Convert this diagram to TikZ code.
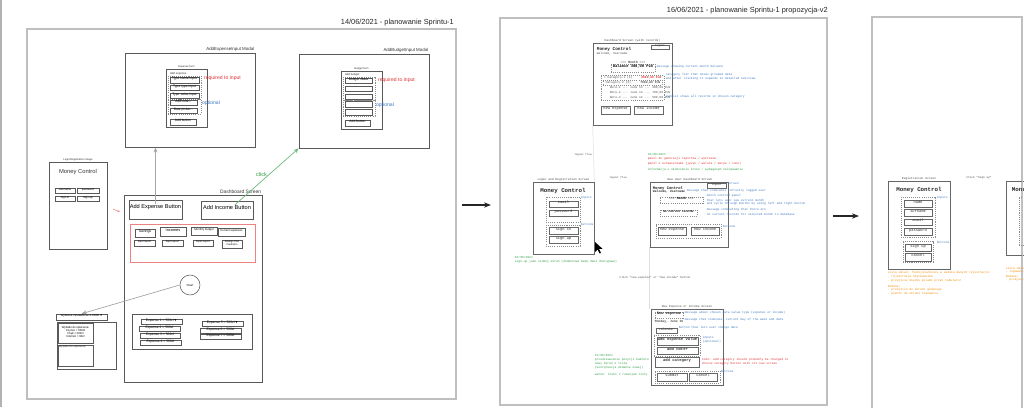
\documentclass[tikz,border=0pt]{standalone}
\usepackage{fontspec}
\setmainfont{Liberation Sans}
\newfontfamily\codefont{Liberation Mono}
\usepackage{amssymb}
\usepackage{tikz}
\usetikzlibrary{arrows.meta,positioning,calc,fit}

\newcommand{\pxfont}[1]{\fontsize{#1}{#1}\selectfont}

\definecolor{noteblue}{HTML}{3B78C2}
\definecolor{notegreen}{HTML}{2F9E44}
\definecolor{notered}{HTML}{E03131}
\definecolor{noteorange}{HTML}{F08C00}

\tikzset{
    frame/.style     = {draw=gray!50, line width=0.7pt, inner sep=0pt},
    sketch/.style    = {draw=black!65, line width=0.3pt, inner sep=0pt, align=center, font=\pxfont{1.9}},
    hand/.style      = {font=\pxfont{2.2}, text=black!80, inner sep=0.4pt, align=center},
    boardtitle/.style= {font=\pxfont{4.2}, text=black!85, inner sep=0.5pt},
    codebox/.style   = {draw=black!60, line width=0.35pt, inner sep=0pt, font=\codefont\pxfont{2.1}, text=black!80},
    grp/.style       = {draw=black!45, dash pattern=on 0.6pt off 0.6pt, line width=0.3pt, inner sep=0pt},
    code/.style      = {font=\codefont\pxfont{1.7}, text=black!70, inner sep=0.3pt},
    bluenote/.style  = {code, anchor=west, text=noteblue},
    greennote/.style = {code, anchor=west, text=notegreen},
    rednote/.style   = {code, anchor=west, text=notered},
    orangenote/.style= {code, anchor=west, text=noteorange}
}

\begin{document}
\begin{tikzpicture}[x=0.02cm, y=-0.02cm,
        grayarr/.style  = {->, >={Stealth[length=3pt]}, line width=0.4pt, draw=gray!70},
        greenarr/.style = {->, >={Stealth[length=3pt]}, line width=0.4pt, draw=notegreen!70},
        boardarr/.style = {->, >={Stealth[length=4pt]}, line width=0.6pt, draw=black!85},
        faint/.style    = {line width=0.3pt, draw=gray!25}
    ]
    \path[use as bounding box, fill=white] (0,0) rectangle (1024,407);
    \fill[gray!60] (0,0) rectangle (2.5,407);

    % ================= Board 1 : 14/06 =================
    \node[frame, fit={(27,29) (456,399)}] (boardA) {};
    \node[boardtitle, anchor=south east] (boardATitle) at (455,27) {14/06/2021 - planowanie Sprintu-1};

    % AddExpenseInput modal
    \node[sketch, fit={(125,53) (255,147)}] (expModal) {};
    \node[hand, anchor=south east, font=\pxfont{2.5}] (expModalLbl) at (expModal.north east) {AddExpenseInput Modal};
    \node[sketch, fit={(166,69) (207,127)}] (expForm) {};
    \node[hand, anchor=south, font=\pxfont{1.5}] (expFormLbl) at (expForm.north) {Expense form};
    \node[hand, anchor=west, font=\pxfont{1.6}] (expAddLbl) at (169,74) {Add expense};
    \node[grp, fit={(168,76) (201,99)}] (expReqGrp) {};
    \node[sketch, fit={(170,77) (199,83)}] (expName) {Type name input};
    \node[sketch, fit={(170,85) (199,90)}] (expType) {Type type input};
    \node[sketch, fit={(170,93) (199,98)}] (expValue) {Type value input};
    \node[grp, fit={(168,99) (201,114)}] (expOptGrp) {};
    \node[sketch, fit={(170,100) (197,105)}] (expNote) {Add note...};
    \node[sketch, fit={(170,108) (197,113)}] (expDate) {Date picker...};
    \node[sketch, fit={(170,119) (196,125)}] (expAddBtn) {Add button};
    \node[hand, anchor=west, text=notered, font=\pxfont{2.9}] (expReq) at (203,78) {required to input};
    \node[hand, anchor=west, text=noteblue, font=\pxfont{2.9}] (expOpt) at (201,103) {optional};

    % AddBudgetInput modal
    \node[sketch, fit={(299,54) (429,148)}] (budModal) {};
    \node[hand, anchor=south east, font=\pxfont{2.5}] (budModalLbl) at (budModal.north east) {AddBudgetInput Modal};
    \node[sketch, fit={(341,71) (382,129)}] (budForm) {};
    \node[hand, anchor=south, font=\pxfont{1.5}] (budFormLbl) at (budForm.north) {Budget form};
    \node[hand, anchor=west, font=\pxfont{1.6}] (budAddLbl) at (344,75) {Add budget};
    \node[grp, fit={(343,77) (375,100)}] (budReqGrp) {};
    \node[sketch, fit={(345,78) (372,83)}] (budValue) {Budget value};
    \node[sketch, fit={(345,86) (372,91)}] (budFieldA) {};
    \node[sketch, fit={(345,94) (372,99)}] (budFieldB) {};
    \node[grp, fit={(343,100) (375,116)}] (budOptGrp) {};
    \node[sketch, fit={(345,101) (372,107)}] (budFieldC) {};
    \node[sketch, fit={(345,109) (372,115)}] (budFieldD) {};
    \node[sketch, fit={(345,120) (370,126)}] (budAddBtn) {Add button};
    \node[hand, anchor=west, text=notered, font=\pxfont{2.9}] (budReq) at (377,80) {required to input};
    \node[hand, anchor=west, text=noteblue, font=\pxfont{2.9}] (budOpt) at (375,105) {optional};

    % Login / registration image
    \node[sketch, fit={(49,162) (107,249)}] (loginImg) {};
    \node[hand, anchor=south, font=\pxfont{1.5}] (loginImgLbl) at (loginImg.north) {Login/Registration Image};
    \node[hand, font=\pxfont{3.3}] (loginImgTitle) at (78,172) {Money Control};
    \node[sketch, fit={(55,188) (75,193)}, font=\pxfont{1.6}] (imgUser) {username};
    \node[sketch, fit={(77,188) (99,193)}, font=\pxfont{1.6}] (imgPass) {password};
    \node[sketch, fit={(55,196) (75,201)}, font=\pxfont{1.6}] (imgSignIn) {Sign in};
    \node[sketch, fit={(77,196) (99,201)}, font=\pxfont{1.6}] (imgSignUp) {Sign up};

    % Dashboard screen
    \node[sketch, fit={(124,195) (262,382)}] (dashA) {};
    \node[hand, anchor=south east, font=\pxfont{2.8}] (dashALbl) at (dashA.north east) {Dashboard Screen};
    \node[sketch, fit={(129,200) (182,219)}, font=\pxfont{3.2}] (addExpBtn) {Add Expense Button};
    \node[sketch, fit={(201,201) (253,219)}, font=\pxfont{3.2}] (addIncBtn) {Add Income Button};
    \node[sketch, draw=notered!60, fit={(130,224) (255,262)}] (statPanel) {};
    \node[sketch, fit={(135,229) (155,237)}, font=\pxfont{2}] (statSavings) {Savings};
    \node[sketch, fit={(160,227) (186,236)}, font=\pxfont{2.2}] (statIncomes) {Incomes};
    \node[sketch, fit={(191,227) (217,235)}, font=\pxfont{1.6}] (statBudget) {Monthly budget};
    \node[sketch, fit={(218,228) (245,236)}, font=\pxfont{1.6}] (statCurrent) {Current expenses};
    \node[sketch, fit={(134,240) (155,246)}, font=\pxfont{1.5}] (repA) {Input report};
    \node[sketch, fit={(162,240) (183,246)}, font=\pxfont{1.5}] (repB) {Input report};
    \node[sketch, fit={(193,240) (213,246)}, font=\pxfont{1.5}] (repC) {Input report};
    \node[sketch, fit={(222,240) (242,248)}, font=\pxfont{1.4}] (repPlan) {Savings Plan\\Prediction};
    \node[sketch, circle, minimum size=0.4cm, font=\pxfont{1.6}] (chart) at (190,285) {Chart};
    \node[sketch, fit={(132,314) (252,349)}] (expList) {};
    \node[sketch, fit={(141,319) (182,324)}] (expItemA) {Expense 1 = 500zł\,$\blacktriangledown$};
    \node[sketch, fit={(139,326) (180,331)}] (expItemB) {Expense 2 = 500zł};
    \node[sketch, fit={(140,333) (180,338)}] (expItemC) {Expense 3 = 500zł};
    \node[sketch, fit={(140,340) (181,345)}] (expItemD) {Expense 4 = 500zł};
    \node[sketch, fit={(202,321) (243,326)}] (expItemE) {Expense 5 = 500zł\,$\blacktriangledown$};
    \node[sketch, fit={(200,328) (241,333)}] (expItemF) {Expense 6 = 500zł};
    \node[sketch, fit={(200,334) (241,339)}] (expItemG) {Expense 7 = 500zł};

    % Summary drop-down
    \node[sketch, fit={(56,314) (107,320)}, font=\pxfont{1.7}] (sumDrop) {Wybrane zestawienie 4.000zł\,$\blacktriangledown$};
    \node[sketch, fit={(57,322) (116,369)}] (sumBox) {};
    \node[sketch, fit={(58,323) (93,343)}, font=\pxfont{1.6}] (sumPaid) {Wydatki do opłacenia:\\Czynsz = 500zł\\Prąd = 200zł\\Internet = 90zł};
    \node[sketch, fit={(58,345) (93,366)}] (sumTodo) {};
    \node[hand, anchor=north west, font=\pxfont{1.6}] (sumTodoLbl) at (sumTodo.north west) {Wydatki do opłacenia};

    % connectors of board 1
    \draw[grayarr] ([yshift=-0.08cm]addExpBtn.north) -- (addExpBtn.north |- expModal.south);
    \draw[greenarr] ([xshift=0.16cm, yshift=-0.08cm]addIncBtn.north) -- node[above left=-1pt, hand, text=notegreen, font=\pxfont{3.2}] (clickLbl) {click} (budModal.south west);
    \draw[grayarr] (chart.west) -- (sumDrop.north);
    \coordinate (loginOut) at (113,209);
    \coordinate (dashIn) at (120,212);
    \draw[->, >={Stealth[length=1.5pt]}, draw=notered!60, line width=0.3pt] (loginOut) -- (dashIn);

    % board 1 -> board 2
    \coordinate (boardAOut) at (462,205);
    \coordinate (boardBIn) at (491,205);
    \draw[boardarr] (boardAOut) -- (boardBIn);

    % ================= Board 2 : 16/06 =================
    \node[frame, fit={(500,18) (827,405)}] (boardB) {};
    \node[boardtitle, anchor=south east] (boardBTitle) at (829,15) {16/06/2021 - planowanie Sprintu-1 propozycja-v2};

    % Dashboard screen with records
    \node[codebox, fit={(593,43) (672,125)}] (recDash) {};
    \node[code, anchor=south] (recDashLbl) at (recDash.north) {Dashboard Screen (with records)};
    \node[codebox, fit={(651,45) (669,49)}, font=\codefont\pxfont{1.6}] (recLogout) {logout};
    \node[code, anchor=west, font=\codefont\bfseries\pxfont{2.5}, text=black!85] (recTitle) at (596,49) {Money Control};
    \node[code, anchor=west, font=\codefont\pxfont{1.7}] (recWelcome) at (596,53.5) {Welcome, Username};
    \node[code, font=\codefont\pxfont{1.8}] (recMonth) at (633,62) {<<< \textbf{Month} >>>};
    \node[grp, fit={(611,64) (655,72)}, font=\codefont\bfseries\pxfont{2.1}] (recBalance) {Balance 300,00 PLN};
    \node[bluenote] (recBalanceNote) at (656,67) {message showing current month balance};
    \node[grp, fit={(601,75) (664,100)}] (recCats) {};
    \node[code, anchor=west] (recCatA) at (603,77.5) {> Category-1 (2)};
    \node[code, anchor=east, text=notered, font=\codefont\bfseries\pxfont{1.7}] (recCatAVal) at (662,77.5) {2000,00 PLN};
    \node[grp, fit={(603,80) (662,85)}] (recCatBox) {};
    \node[code, anchor=west] (recCatB) at (605,82.5) {Category-2 (3)};
    \node[code, anchor=east, font=\codefont\bfseries\pxfont{1.7}] (recCatBVal) at (661,82.5) {7000,00 PLN};
    \node[code, anchor=west] (recNoteA) at (609,88) {Note-1 ... June 13 ... 300,00 PLN};
    \node[code, anchor=west] (recNoteB) at (609,93) {Note-2 ... June 13 ... 700,00 PLN};
    \node[code, anchor=west] (recNoteC) at (609,98) {Note-3 ... June 14 ... 500,00 PLN};
    \node[bluenote] (recCatNoteA) at (665,75) {category list that shows grouped data};
    \node[bluenote] (recCatNoteB) at (665,79) {and after clicking it expands to detailed overview};
    \node[bluenote] (recSubNote) at (665,97) {subList shows all records in chosen category};
    \node[codebox, fit={(601,106) (630,114)}] (recNewExp) {new expense};
    \node[codebox, fit={(634,106) (663,114)}] (recNewInc) {new income};

    % dated notes
    \node[greennote] (noteDateA) at (647,154) {16/06/2021};
    \node[rednote] (noteReports) at (647,159) {panel do generacji raportów / wykresów};
    \node[rednote] (noteSettings) at (647,164) {panel z ustawieniami (język / waluta / motyw / inne)};
    \node[greennote] (noteInfo) at (647,170) {informacja o ukończeniu kroku / wymaganym zalogowaniu};

    % Login and registration screen
    \node[codebox, fit={(533,182) (594,254)}] (loginScr) {};
    \node[code, anchor=south] (loginScrLbl) at (loginScr.north) {Login and Registration Screen};
    \node[code, font=\codefont\bfseries\pxfont{3.3}, text=black!85] (loginTitle) at (563,191) {Money Control};
    \node[grp, fit={(546,197) (580,222)}] (loginInputs) {};
    \node[codebox, fit={(549,201) (578,207)}] (loginEmail) {email};
    \node[codebox, fit={(549,210) (578,216)}] (loginPass) {password};
    \node[bluenote] (loginInputsNote) at (580,198) {inputs};
    \node[grp, fit={(546,225) (580,246)}] (loginBtns) {};
    \node[codebox, fit={(549,227) (578,234)}] (loginSignIn) {sign in};
    \node[codebox, fit={(549,236) (578,243)}] (loginSignUp) {sign up};
    \node[bluenote] (loginBtnsNote) at (580,224) {buttons};
    \node[greennote] (noteDateB) at (514,257) {16/06/2021};
    \node[greennote] (noteSignUp) at (514,262) {sign-up jako osobny ekran (dodatkowo mamy dane dostępowe)};
    \fill[black] (595,242) -- (595,252) -- (597.5,249.5) -- (599.5,253.5) -- (601,252.8) -- (599,248.8) -- (602.5,248.8) -- cycle;

    % logout flows
    \draw[faint] (recDash.south west) -- (loginScr.north east);
    \node[code, font=\codefont\pxfont{1.5}] (logoutFlowA) at (583,155) {logout flow};
    \node[code, font=\codefont\pxfont{1.5}] (logoutFlowB) at (618,178) {logout flow};

    % New user dashboard screen
    \node[codebox, fit={(650,182) (728,247)}] (newDash) {};
    \node[code, anchor=south] (newDashLbl) at (690,181) {New User Dashboard Screen};
    \node[codebox, fit={(707,183) (726,188)}, font=\codefont\pxfont{1.6}] (newLogout) {logout};
    \node[bluenote] (newLogoutNote) at (727,184) {screen};
    \node[code, anchor=west, font=\codefont\bfseries\pxfont{2.2}, text=black!85] (newTitle) at (652,188) {Money Control};
    \node[code, anchor=west, font=\codefont\bfseries\pxfont{1.8}, text=black!85] (newWelcome) at (652,192) {Welcome, Username};
    \node[bluenote] (newWelcomeNote) at (686,191) {message that indicates currently logged user};
    \node[grp, fit={(660,197) (703,203)}, font=\codefont\pxfont{1.8}] (newMonth) {<<< \textbf{Month} >>>};
    \node[bluenote] (newMonthNoteA) at (706,196) {month control panel};
    \node[bluenote] (newMonthNoteB) at (706,200) {that lets user see current month};
    \node[bluenote] (newMonthNoteC) at (706,204) {and cycle through months by using left and right button};
    \node[grp, fit={(660,210) (697,216)}, font=\codefont\bfseries\pxfont{1.6}] (newNoRec) {No current records};
    \node[bluenote] (newNoRecNoteA) at (706,210) {message indicating that there are};
    \node[bluenote] (newNoRecNoteB) at (706,214) {no current records for selected month in database};
    \node[grp, fit={(656,224) (721,238)}] (newBtns) {};
    \node[codebox, fit={(658,227) (686,235)}] (newNewExp) {new expense};
    \node[codebox, fit={(691,227) (719,235)}] (newNewInc) {new income};
    \node[bluenote] (newBtnsNote) at (722,226) {buttons};

    % New expense or income screen
    \node[codebox, fit={(651,309) (723,385)}] (entryScr) {};
    \node[code, anchor=south] (entryScrLbl) at (entryScr.north) {New Expense or Income Screen};
    \draw[faint] (newDash.south west) -- (newDash.south west |- entryScr.north);
    \node[code, font=\codefont\pxfont{1.6}] (clickNew) at (655,278) {Click "new expense" or "new income" button};
    \node[grp, fit={(655,312) (683,318)}, font=\codefont\bfseries\pxfont{2.1}, text=black!85] (entryType) {New expense};
    \node[code, anchor=west, font=\codefont\bfseries\pxfont{1.8}] (entryDate) at (654,322) {Monday, June 15};
    \node[bluenote] (entryTypeNote) at (684,313) {message about chosen data value type (expense or income)};
    \node[bluenote] (entryDateNote) at (684,320) {message that indicates current day of the week and date};
    \node[codebox, fit={(656,328) (677,333)}, font=\codefont\pxfont{1.8}] (entryCal) {calendar};
    \node[bluenote] (entryCalNote) at (678,328) {button that lets user change date};
    \node[grp, fit={(654,335) (700,356)}] (entryInputs) {};
    \node[codebox, fit={(657,337) (698,345)}, font=\codefont\bfseries\pxfont{2.2}] (entryValue) {add expense value};
    \node[codebox, fit={(657,347) (698,354)}, font=\codefont\bfseries\pxfont{2.2}] (entryNote) {add note+\hspace{1.2em}};
    \node[bluenote] (entryInputsNoteA) at (702,338) {inputs};
    \node[bluenote] (entryInputsNoteB) at (702,342) {(optional)};
    \node[codebox, fit={(655,357) (699,367)}, font=\codefont\bfseries\pxfont{2.2}] (entryCat) {add category\hspace{1em}};
    \node[rednote] (entryCatNoteA) at (701,360) {todo: add category should probably be changed to};
    \node[rednote] (entryCatNoteB) at (701,364) {choose category button with its own screen};
    \node[grp, fit={(655,371) (720,383)}] (entryBtns) {};
    \node[codebox, fit={(657,373) (687,381)}] (entrySubmit) {submit};
    \node[codebox, fit={(689,373) (717,381)}] (entryCancel) {cancel};
    \node[bluenote] (entryBtnsNote) at (720,371) {buttons};
    \node[greennote] (noteDateC) at (594,355) {15/06/2021};
    \node[greennote] (noteListA) at (594,360) {przedstawienie pozycji budżetu};
    \node[greennote] (noteListB) at (594,364) {nowy ekran z listą};
    \node[greennote] (noteListC) at (594,368) {(kontynuacja dodania nowej)};
    \node[greennote] (noteListD) at (594,375) {ważne: kroki z rozwojem listy};

    % board 2 -> board 3
    \coordinate (boardBOut) at (833,216);
    \coordinate (boardCIn) at (859,216);
    \draw[boardarr] (boardBOut) -- (boardCIn);

    % ================= Board 3 =================
    \node[frame, fit={(872,17) (1022,415)}] (boardC) {};

    % Registration screen
    \node[codebox, fit={(888,181) (950,269)}] (regScr) {};
    \node[code, anchor=south] (regScrLbl) at (regScr.north) {Registration Screen};
    \node[code, font=\codefont\bfseries\pxfont{3.3}, text=black!85] (regTitle) at (919,190) {Money Control};
    \node[grp, fit={(901,197) (935,237)}] (regInputs) {};
    \node[codebox, fit={(904,200) (932,207)}] (regName) {name};
    \node[codebox, fit={(904,209) (932,216)}] (regSurname) {surname};
    \node[codebox, fit={(904,219) (932,225)}] (regEmail) {email};
    \node[codebox, fit={(904,228) (932,235)}] (regPass) {password};
    \node[bluenote] (regInputsNote) at (936,198) {inputs};
    \node[grp, fit={(903,241) (933,262)}] (regBtns) {};
    \node[codebox, fit={(905,244) (931,251)}] (regSignUp) {sign up};
    \node[codebox, fit={(905,253) (931,261)}] (regCancel) {cancel};
    \node[bluenote] (regBtnsNote) at (936,242) {buttons};
    \node[orangenote] (regNoteA) at (887,273) {Lista zmian: funkcjonalności w widoku danych rejestracji:};
    \node[orangenote] (regNoteB) at (887,277) {- rejestracja użytkownika};
    \node[orangenote] (regNoteC) at (887,281) {- przejście między polami przez tabulator};
    \node[orangenote] (regNoteD) at (887,286) {Dodane:};
    \node[orangenote] (regNoteE) at (887,290) {- przejście do ekranu głównego};
    \node[orangenote] (regNoteF) at (887,294) {- powrót do ekranu logowania};
    \node[code, font=\codefont\pxfont{1.6}] (clickSignUp) at (979,178) {Click "Sign up"};

    % next screen (cut off)
    \node[codebox, fit={(1006,181) (1060,255)}] (nextScr) {};
    \node[code, anchor=west, font=\codefont\bfseries\pxfont{3.3}, text=black!85] (nextTitle) at (1011,190) {Money Control};
    \node[grp, fit={(1019,197) (1060,245)}] (nextGrp) {};
    \node[orangenote] (nextNoteA) at (1005,268) {Lista zmian:};
    \node[orangenote] (nextNoteB) at (1005,272) {- logowanie};
    \node[orangenote] (nextNoteC) at (1005,276) {Dodane:};
    \node[orangenote] (nextNoteD) at (1005,280) {- przejście};
    \draw[gray!50, line width=0.7pt] (boardC.north east) -- (boardC.south east);

\end{tikzpicture}
\end{document}
